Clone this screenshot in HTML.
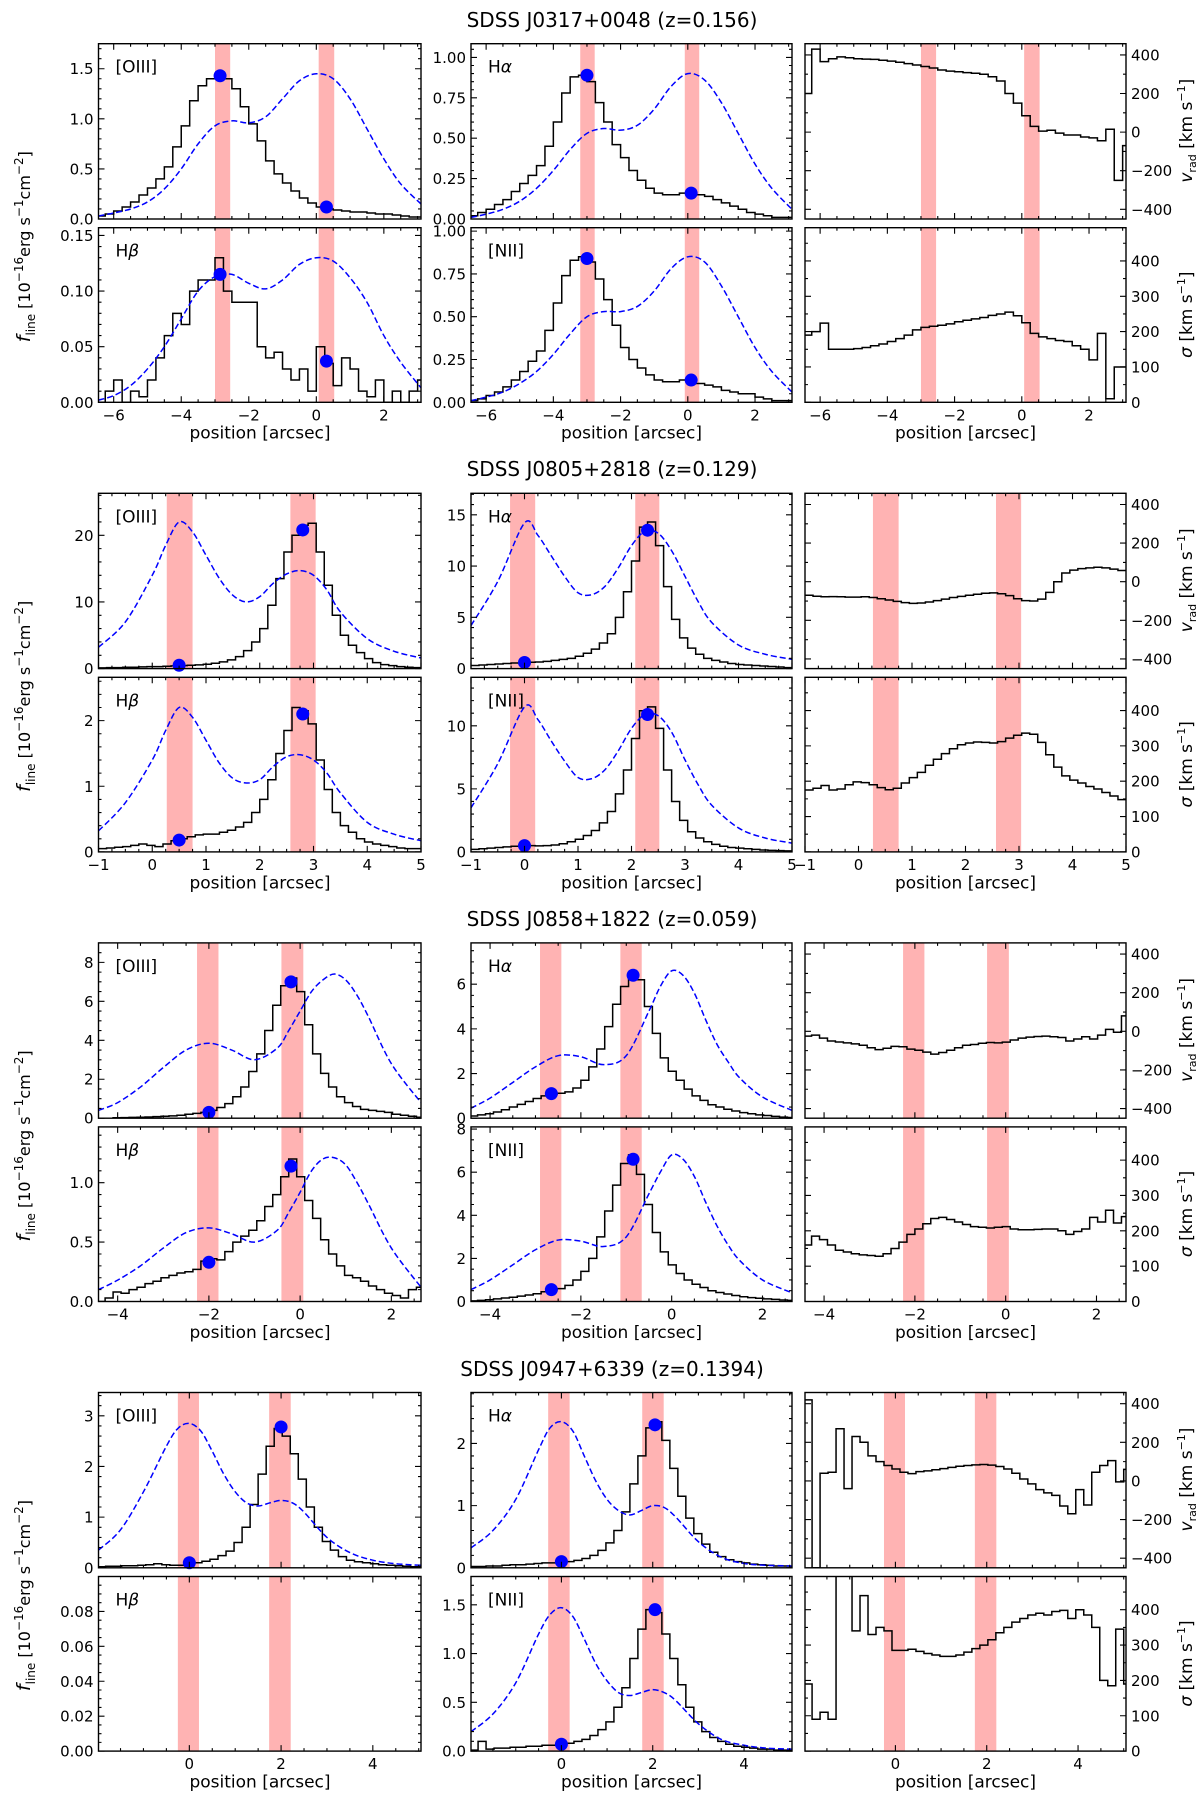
<!DOCTYPE html>
<html><head><meta charset="utf-8"><style>
html,body{margin:0;padding:0;background:#fff;}
svg{display:block;font-family:"DejaVu Sans","Liberation Sans",sans-serif;}
</style></head><body>
<svg id="fig" xmlns="http://www.w3.org/2000/svg" width="1200" height="1795" viewBox="0 0 1200 1795">
<defs id="defs"></defs>
<rect width="1200" height="1795" fill="#fff"/>
<g font-size="20" text-anchor="middle" fill="#000">
<text x="612" y="27">SDSS J0317+0048 (z=0.156)</text>
<text x="612" y="476">SDSS J0805+2818 (z=0.129)</text>
<text x="612" y="926">SDSS J0858+1822 (z=0.059)</text>
<text x="612" y="1376">SDSS J0947+6339 (z=0.1394)</text>
</g>
<g id="labels" font-size="17" text-anchor="middle"></g>
</svg>
<script>
// ---------- DATA ----------
// Row 1: SDSS J0317+0048
const r1_bin0 = -6.5, r1_binw = 0.25;
const r1_oiii = [0.03,0.05,0.08,0.12,0.17,0.24,0.31,0.4,0.52,0.72,0.93,1.18,1.33,1.4,1.43,1.4,1.3,1.12,0.95,0.78,0.58,0.45,0.36,0.28,0.21,0.16,0.12,0.1,0.09,0.08,0.07,0.07,0.06,0.05,0.05,0.04,0.03,0.02,0.02];
const r1_ha = [0.02,0.04,0.06,0.09,0.12,0.17,0.22,0.27,0.33,0.45,0.6,0.78,0.88,0.89,0.85,0.72,0.6,0.46,0.38,0.3,0.24,0.19,0.16,0.15,0.15,0.16,0.17,0.15,0.14,0.12,0.1,0.08,0.06,0.04,0.03,0.02,0.01,0.01,0.01];
const r1_hb = [0.0,0.01,0.02,0.0,0.01,0.005,0.02,0.04,0.06,0.08,0.07,0.1,0.11,0.11,0.13,0.10,0.09,0.09,0.09,0.05,0.04,0.045,0.03,0.02,0.03,0.01,0.05,0.035,0.015,0.04,0.03,0.01,0.005,0.02,0.0,0.01,0.0,0.01,0.02];
const r1_nii = [0.01,0.02,0.04,0.06,0.09,0.13,0.18,0.24,0.3,0.42,0.58,0.74,0.83,0.85,0.82,0.72,0.6,0.45,0.32,0.25,0.2,0.16,0.13,0.12,0.12,0.13,0.12,0.11,0.1,0.09,0.07,0.06,0.05,0.05,0.03,0.02,0.01,0.01,0.01];
const r1_vrad = [200,430,365,380,390,385,380,378,377,372,368,362,355,348,340,332,322,316,313,308,305,300,287,265,200,150,85,30,5,10,-5,-15,-15,-25,-30,-45,15,-250,-70];
const r1_sigma = [190,200,224,150,150,150,152,155,160,165,172,180,190,205,212,215,218,222,228,232,236,240,246,250,255,245,225,195,185,180,175,172,160,150,120,195,10,100,100];
const r1_dashX = [-6.45,-6,-5.5,-5,-4.5,-4,-3.5,-3,-2.5,-2,-1.5,-1,-0.5,0,0.5,1,1.5,2,2.5,3.1];
const r1_oiii_fit = [0.03,0.06,0.1,0.17,0.3,0.5,0.75,0.93,0.98,0.96,1.02,1.2,1.38,1.45,1.4,1.2,0.9,0.6,0.35,0.15];
const r1_ha_fit = [0.01,0.03,0.06,0.11,0.19,0.3,0.43,0.53,0.56,0.55,0.58,0.68,0.82,0.9,0.86,0.72,0.53,0.34,0.19,0.06];
const r1_hb_fit = [0.002,0.006,0.015,0.03,0.05,0.075,0.1,0.113,0.115,0.107,0.102,0.11,0.124,0.13,0.127,0.112,0.09,0.06,0.036,0.013];
const r1_nii_fit = [0.01,0.03,0.06,0.11,0.18,0.28,0.4,0.5,0.53,0.53,0.56,0.65,0.78,0.85,0.82,0.68,0.5,0.32,0.18,0.06];
const r1_oiii_dotX = [-2.85,0.3], r1_oiii_dotY = [1.43,0.12];
const r1_ha_dotX = [-3.0,0.1], r1_ha_dotY = [0.89,0.16];
const r1_hb_dotX = [-2.85,0.3], r1_hb_dotY = [0.115,0.037];
const r1_nii_dotX = [-3.0,0.1], r1_nii_dotY = [0.84,0.13];
const r1_bandsA = [[-3.0,-2.55],[0.07,0.53]], r1_bandsB = [[-3.2,-2.77],[-0.09,0.34]];

// Row 2: SDSS J0805+2818
const r2_bin0 = -1, r2_binw = 0.15;
const r2_oiii = [0.1,0.15,0.15,0.2,0.2,0.25,0.3,0.3,0.35,0.4,0.45,0.5,0.55,0.65,0.8,1.0,1.3,1.8,2.7,4.0,6.0,9.5,13.5,17.5,20.0,21.5,21.8,17.5,12.5,8.0,5.0,3.5,2.4,1.5,0.9,0.6,0.45,0.3,0.2,0.15];
const r2_ha = [0.3,0.35,0.4,0.45,0.5,0.55,0.6,0.62,0.65,0.7,0.8,0.9,1.0,1.2,1.5,1.9,2.5,3.4,5.0,7.5,10.5,13.8,14.3,12.0,8.0,4.8,3.0,2.0,1.4,1.0,0.8,0.65,0.5,0.4,0.35,0.3,0.25,0.2,0.15,0.1];
const r2_hb = [0.05,0.06,0.07,0.08,0.1,0.12,0.1,0.08,0.12,0.17,0.2,0.23,0.26,0.27,0.27,0.3,0.33,0.38,0.45,0.6,0.8,1.1,1.5,1.85,2.2,2.15,1.95,1.4,0.95,0.6,0.4,0.3,0.2,0.15,0.12,0.1,0.08,0.06,0.05,0.05];
const r2_nii = [0.2,0.25,0.3,0.35,0.4,0.45,0.5,0.5,0.48,0.5,0.55,0.65,0.8,1.0,1.3,1.7,2.3,3.2,4.6,6.5,9.0,11.2,11.5,9.8,6.5,4.0,2.5,1.6,1.1,0.8,0.6,0.45,0.35,0.3,0.25,0.2,0.15,0.12,0.1,0.08];
const r2_vrad = [-70,-75,-78,-77,-78,-80,-80,-78,-82,-88,-95,-102,-108,-112,-110,-105,-98,-90,-82,-76,-70,-65,-60,-58,-62,-72,-88,-98,-100,-90,-55,0,45,60,68,72,75,72,65,58];
const r2_sigma = [175,180,188,175,178,190,198,196,190,182,176,180,195,210,225,245,262,278,292,303,308,311,310,308,312,322,330,336,333,310,275,240,215,203,195,185,178,168,158,148];
const r2_dashX = [-1,-0.5,0,0.25,0.5,0.75,1,1.25,1.5,1.75,2,2.25,2.5,2.75,3,3.25,3.5,4,4.5,5];
const r2_oiii_fit = [3.2,7,14,18.5,22,20.5,17,13.5,11,10,10.8,12.8,14.2,14.7,14,11.8,8.5,4.5,2.6,1.6];
const r2_ha_fit = [4.2,8.5,14.2,13,11,9,7.4,7.2,8,9.8,12,13.4,13.2,11.5,9,6.5,4.5,2.3,1.4,0.9];
const r2_hb_fit = [0.32,0.75,1.4,1.85,2.2,2.05,1.7,1.35,1.12,1.05,1.1,1.3,1.45,1.48,1.4,1.2,0.9,0.45,0.27,0.17];
const r2_nii_fit = [3.5,7,11.5,10.5,8.8,7.2,5.9,5.8,6.5,8,9.8,10.9,10.8,9.5,7.3,5.3,3.7,1.9,1.1,0.7];
const r2_oiii_dotX = [0.5,2.8], r2_oiii_dotY = [0.5,20.8];
const r2_ha_dotX = [0,2.3], r2_ha_dotY = [0.6,13.5];
const r2_hb_dotX = [0.5,2.8], r2_hb_dotY = [0.18,2.1];
const r2_nii_dotX = [0,2.3], r2_nii_dotY = [0.5,10.9];
const r2_bandsA = [[0.27,0.75],[2.57,3.04]], r2_bandsB = [[-0.27,0.2],[2.07,2.52]];

// Row 3: SDSS J0858+1822
const r3_bin0 = -4.45, r3_binw = 0.175;
const r3_oiii = [0,0,0.02,0.03,0.04,0.05,0.06,0.08,0.1,0.12,0.15,0.2,0.25,0.3,0.4,0.55,0.75,1.1,1.6,2.4,3.3,4.5,5.8,6.8,7.2,6.5,4.8,3.3,2.3,1.6,1.1,0.8,0.6,0.45,0.4,0.35,0.3,0.2,0.15,0.1,0.05];
const r3_ha = [0.1,0.15,0.2,0.28,0.38,0.5,0.62,0.75,0.88,1.0,1.08,1.12,1.18,1.35,1.7,2.3,3.1,4.1,5.1,5.9,6.5,6.2,5.0,3.8,2.7,2.1,1.7,1.3,1.0,0.8,0.6,0.5,0.4,0.32,0.25,0.2,0.15,0.12,0.08,0.05,0.03];
const r3_hb = [0.0,0.03,0.08,0.07,0.1,0.12,0.15,0.17,0.2,0.22,0.24,0.25,0.27,0.34,0.36,0.35,0.42,0.5,0.55,0.6,0.68,0.8,0.9,1.05,1.2,1.05,0.85,0.7,0.52,0.4,0.3,0.22,0.2,0.17,0.13,0.1,0.07,0.05,0.03,0.1,0.12];
const r3_nii = [0.03,0.05,0.08,0.12,0.16,0.2,0.25,0.3,0.36,0.45,0.55,0.6,0.75,1.0,1.4,2.0,3.0,4.2,5.4,6.4,6.8,5.9,4.5,3.2,2.3,1.7,1.3,1.0,0.8,0.65,0.5,0.42,0.35,0.28,0.22,0.18,0.15,0.12,0.1,0.07,0.05];
const r3_vrad = [-25,-20,-35,-50,-55,-60,-65,-72,-85,-95,-88,-78,-80,-92,-98,-108,-118,-110,-98,-85,-72,-68,-62,-58,-60,-56,-45,-35,-30,-27,-25,-28,-32,-50,-40,-28,-40,-20,10,-5,80];
const r3_sigma = [160,185,175,160,145,140,135,132,130,128,135,150,168,190,205,220,235,238,232,225,218,212,210,208,210,212,205,203,203,204,205,205,200,190,198,205,238,225,258,222,240];
const r3_dashX = [-4.42,-4,-3.5,-3,-2.5,-2,-1.5,-1,-0.5,-0.25,0,0.25,0.5,0.75,1,1.25,1.5,2,2.65];
const r3_oiii_fit = [0.4,0.8,1.6,2.6,3.5,3.85,3.5,3.0,3.6,4.5,5.5,6.5,7.1,7.4,7.1,6.3,5.2,2.8,0.8];
const r3_ha_fit = [0.45,0.9,1.6,2.3,2.8,2.75,2.4,2.8,4.8,5.9,6.6,6.4,5.6,4.4,3.3,2.5,1.8,0.95,0.35];
const r3_hb_fit = [0.1,0.18,0.3,0.45,0.58,0.62,0.57,0.5,0.6,0.75,0.92,1.1,1.2,1.21,1.15,1.0,0.82,0.45,0.12];
const r3_nii_fit = [0.55,1.0,1.7,2.4,2.85,2.8,2.55,3.0,5.0,6.0,6.8,6.6,5.8,4.6,3.5,2.6,1.9,1.0,0.4];
const r3_oiii_dotX = [-2.0,-0.2], r3_oiii_dotY = [0.3,7.0];
const r3_ha_dotX = [-2.65,-0.85], r3_ha_dotY = [1.1,6.4];
const r3_hb_dotX = [-2.0,-0.2], r3_hb_dotY = [0.33,1.14];
const r3_nii_dotX = [-2.65,-0.85], r3_nii_dotY = [0.55,6.6];
const r3_bandsA = [[-2.26,-1.79],[-0.41,0.07]], r3_bandsB = [[-2.9,-2.43],[-1.13,-0.66]];

// Row 4: SDSS J0947+6339
const r4_bin0 = -2.0, r4_binw = 0.175;
const r4_oiii = [0.02,0.03,0.03,0.04,0.04,0.05,0.06,0.08,0.06,0.05,0.05,0.07,0.1,0.13,0.17,0.24,0.33,0.5,0.8,1.25,1.85,2.4,2.75,2.6,2.25,1.75,1.2,0.8,0.52,0.35,0.22,0.15,0.12,0.1,0.08,0.06,0.05,0.04,0.03,0.02,0.02];
const r4_ha = [0.02,0.02,0.03,0.03,0.04,0.05,0.05,0.06,0.07,0.08,0.08,0.09,0.1,0.12,0.15,0.2,0.28,0.4,0.6,0.9,1.35,1.8,2.25,2.35,2.05,1.6,1.15,0.8,0.55,0.38,0.25,0.18,0.13,0.1,0.08,0.06,0.05,0.04,0.03,0.03,0.02];
const r4_nii = [0.01,0.1,0.02,0.03,0.03,0.04,0.04,0.05,0.05,0.06,0.06,0.07,0.08,0.1,0.12,0.16,0.22,0.3,0.45,0.65,0.95,1.25,1.45,1.42,1.2,0.95,0.68,0.45,0.3,0.2,0.14,0.1,0.07,0.05,0.04,0.03,0.02,0.02,0.01,0.01,0.01];
const r4_vrad = [420,-450,40,45,270,-40,230,200,130,100,80,62,45,38,48,52,58,64,70,76,80,83,85,82,75,62,40,10,-15,-45,-62,-75,-130,-170,-45,-125,45,80,105,-5,60];
const r4_sigma = [190,90,110,90,500,500,340,440,330,350,340,285,285,288,282,276,272,268,268,272,280,290,300,315,335,350,365,375,385,390,385,395,398,375,400,385,350,200,185,345,190];
const r4_dashX = [-1.98,-1.5,-1,-0.5,-0.25,0,0.25,0.5,0.75,1,1.25,1.5,1.75,2,2.25,2.5,3,3.5,4,4.5,5.05];
const r4_oiii_fit = [0.35,0.75,1.5,2.4,2.75,2.85,2.7,2.3,1.85,1.5,1.28,1.22,1.28,1.33,1.28,1.1,0.6,0.3,0.15,0.08,0.05];
const r4_ha_fit = [0.32,0.6,1.1,1.9,2.25,2.35,2.2,1.8,1.4,1.1,0.92,0.85,0.92,1.0,0.97,0.82,0.42,0.17,0.07,0.04,0.03];
const r4_nii_fit = [0.2,0.38,0.7,1.2,1.4,1.47,1.38,1.15,0.9,0.72,0.6,0.57,0.6,0.63,0.6,0.52,0.28,0.12,0.06,0.03,0.02];
const r4_oiii_dotX = [0,2.0], r4_oiii_dotY = [0.1,2.78];
const r4_ha_dotX = [0,2.05], r4_ha_dotY = [0.1,2.3];
const r4_nii_dotX = [0,2.05], r4_nii_dotY = [0.07,1.45];
const r4_bandsA = [[-0.25,0.21],[1.74,2.21]], r4_bandsB = [[-0.29,0.18],[1.77,2.24]];

// axis ticks
const r1_xt = [-6,-4,-2,0,2], r2_xt = [-1,0,1,2,3,4,5], r3_xt = [-4,-2,0,2], r4_xt = [0,2,4];
const vrad_ticks = [-400,-200,0,200,400], sigma_ticks = [0,100,200,300,400];

// ---------- DRAWING ----------
const NS = 'http://www.w3.org/2000/svg';
const svg = document.getElementById('fig');
const defs = document.getElementById('defs');
const colL = [98.5,471,805], colR = [421,792,1126];
function rowTop(r){ return 43.7 + 449.6*r; }
let clipN = 0;
function mk(tag, attrs, parent){
  const e = document.createElementNS(NS, tag);
  for (const k in attrs) e.setAttribute(k, attrs[k]);
  parent.appendChild(e);
  return e;
}
function fmt(v, d){ return d==null ? String(v) : v.toFixed(d); }

function drawPanel(c){
  const g = mk('g', {}, svg);
  
  
  const sx = v => c.x0 + (v - c.xr[0])/(c.xr[1]-c.xr[0])*(c.x1-c.x0);
  const sy = v => c.y1 - (v - c.yr[0])/(c.yr[1]-c.yr[0])*(c.y1-c.y0);
  const id = 'clip' + (++clipN);
  const cp = mk('clipPath', {id:id}, defs);
  mk('rect', {x:c.x0, y:c.y0, width:c.x1-c.x0, height:c.y1-c.y0}, cp);
  const inner = mk('g', {'clip-path':'url(#'+id+')'}, g);
  c.bands.forEach(b => {
    const r = mk('rect', {x:sx(b[0]), y:c.y0, width:sx(b[1])-sx(b[0]), height:c.y1-c.y0, fill:'#ffb3b3'}, inner);
    
    
  });
  if (c.hv){
    let d = '';
    c.hv.forEach((v,i) => {
      const a = sx(c.h0 + i*c.hw), b = sx(c.h0 + (i+1)*c.hw), y = sy(v);
      d += (i ? 'V'+y.toFixed(2) : 'M'+a.toFixed(2)+','+y.toFixed(2)) + 'H'+b.toFixed(2);
    });
    const p = mk('path', {d:d, fill:'none', stroke:'#000', 'stroke-width':1.5}, inner);
    
    
  }
  if (c.fx){
    const pts = c.fx.map((x,i) => [sx(x), sy(c.fy[i])]);
    let d = 'M'+pts[0][0]+','+pts[0][1];
    for (let i=0;i<pts.length-1;i++){
      const p0 = pts[Math.max(0,i-1)], p1 = pts[i], p2 = pts[i+1], p3 = pts[Math.min(pts.length-1,i+2)];
      const c1x = p1[0]+(p2[0]-p0[0])/6, c1y = p1[1]+(p2[1]-p0[1])/6;
      const c2x = p2[0]-(p3[0]-p1[0])/6, c2y = p2[1]-(p3[1]-p1[1])/6;
      d += 'C'+c1x.toFixed(2)+','+c1y.toFixed(2)+' '+c2x.toFixed(2)+','+c2y.toFixed(2)+' '+p2[0].toFixed(2)+','+p2[1].toFixed(2);
    }
    const p = mk('path', {d:d, fill:'none', stroke:'#0000ff', 'stroke-width':1.5, 'stroke-dasharray':'6,3'}, inner);
    
    
  }
  if (c.dx){
    c.dx.forEach((x,i) => {
      const ci = mk('circle', {cx:sx(x), cy:sy(c.dy[i]), r:6.5, fill:'#0000ff'}, g);
      
      
    });
  }
  const fr = mk('rect', {x:c.x0, y:c.y0, width:c.x1-c.x0, height:c.y1-c.y0, fill:'none', stroke:'#000', 'stroke-width':1.4}, g);
  
  
  let td = '';
  for (let v = Math.ceil(c.xr[0]/c.xm)*c.xm; v <= c.xr[1]+1e-9; v += c.xm){
    const X = sx(v);
    td += 'M'+X+','+c.y1+'v-3M'+X+','+c.y0+'v3';
  }
  c.xt.forEach(v => { const X = sx(v); td += 'M'+X+','+c.y1+'v-6M'+X+','+c.y0+'v6'; });
  for (let v = Math.ceil(c.yr[0]/c.ym)*c.ym; v <= c.yr[1]+1e-9; v += c.ym){
    const Y = sy(v);
    td += 'M'+c.x0+','+Y+'h3M'+c.x1+','+Y+'h-3';
  }
  c.yt.forEach(v => { const Y = sy(v); td += 'M'+c.x0+','+Y+'h6M'+c.x1+','+Y+'h-6'; });
  const tk = mk('path', {d:td, stroke:'#000', 'stroke-width':1.1, fill:'none'}, g);
  
  
  if (c.showX){
    c.xt.forEach(v => {
      const t = mk('text', {x:sx(v), y:c.y1+18, 'font-size':15, 'text-anchor':'middle'}, g);
      t.textContent = String(v).replace('-','\u2212');
      
      
    });
  }
  c.yt.forEach(v => {
    const t = mk('text', {x: c.right ? c.x1+5 : c.x0-5, y:sy(v)+5.5, 'font-size':15, 'text-anchor': c.right ? 'start':'end'}, g);
    t.textContent = fmt(v, c.yd).replace('-','\u2212');
    
    
  });
  if (c.label){
    const t = mk('text', {x:c.x0+17, y:c.y0+29, 'font-size':17}, g);
    t.innerHTML = c.label;
    
    
  }
}

function range(a,b,s){ const o=[]; for(let v=a; v<=b+1e-9; v+=s) o.push(+v.toFixed(4)); return o; }
const LBL = {
  oiii:'[OIII]', ha:'H<tspan font-style="italic">α</tspan>', hb:'H<tspan font-style="italic">β</tspan>', nii:'[NII]'
};
const rowsCfg = [
  {xr:[-6.45,3.1], xt:r1_xt, xm:0.5, h0:r1_bin0, hw:r1_binw, fx:r1_dashX, bA:r1_bandsA, bB:r1_bandsB,
   p:[
    {k:'oiii', hv:r1_oiii, fy:r1_oiii_fit, dx:r1_oiii_dotX, dy:r1_oiii_dotY, yr:[0,1.75], yt:range(0,1.5,0.5), ym:0.1, yd:1},
    {k:'ha', hv:r1_ha, fy:r1_ha_fit, dx:r1_ha_dotX, dy:r1_ha_dotY, yr:[0,1.085], yt:range(0,1,0.25), ym:0.05, yd:2},
    {k:'hb', hv:r1_hb, fy:r1_hb_fit, dx:r1_hb_dotX, dy:r1_hb_dotY, yr:[0,0.157], yt:range(0,0.15,0.05), ym:0.01, yd:2},
    {k:'nii', hv:r1_nii, fy:r1_nii_fit, dx:r1_nii_dotX, dy:r1_nii_dotY, yr:[0,1.02], yt:range(0,1,0.25), ym:0.05, yd:2}],
   vr:r1_vrad, sg:r1_sigma},
  {xr:[-1,5], xt:r2_xt, xm:0.25, h0:r2_bin0, hw:r2_binw, fx:r2_dashX, bA:r2_bandsA, bB:r2_bandsB,
   p:[
    {k:'oiii', hv:r2_oiii, fy:r2_oiii_fit, dx:r2_oiii_dotX, dy:r2_oiii_dotY, yr:[0,26.3], yt:[0,10,20], ym:2},
    {k:'ha', hv:r2_ha, fy:r2_ha_fit, dx:r2_ha_dotX, dy:r2_ha_dotY, yr:[0,17.1], yt:[0,5,10,15], ym:1},
    {k:'hb', hv:r2_hb, fy:r2_hb_fit, dx:r2_hb_dotX, dy:r2_hb_dotY, yr:[0,2.66], yt:[0,1,2], ym:0.2},
    {k:'nii', hv:r2_nii, fy:r2_nii_fit, dx:r2_nii_dotX, dy:r2_nii_dotY, yr:[0,13.85], yt:[0,5,10], ym:1}],
   vr:r2_vrad, sg:r2_sigma},
  {xr:[-4.42,2.65], xt:r3_xt, xm:0.5, h0:r3_bin0, hw:r3_binw, fx:r3_dashX, bA:r3_bandsA, bB:r3_bandsB,
   p:[
    {k:'oiii', hv:r3_oiii, fy:r3_oiii_fit, dx:r3_oiii_dotX, dy:r3_oiii_dotY, yr:[0,9.0], yt:[0,2,4,6,8], ym:0.5},
    {k:'ha', hv:r3_ha, fy:r3_ha_fit, dx:r3_ha_dotX, dy:r3_ha_dotY, yr:[0,7.85], yt:[0,2,4,6], ym:0.5},
    {k:'hb', hv:r3_hb, fy:r3_hb_fit, dx:r3_hb_dotX, dy:r3_hb_dotY, yr:[0,1.47], yt:[0,0.5,1.0], ym:0.1, yd:1},
    {k:'nii', hv:r3_nii, fy:r3_nii_fit, dx:r3_nii_dotX, dy:r3_nii_dotY, yr:[0,8.1], yt:[0,2,4,6,8], ym:0.5}],
   vr:r3_vrad, sg:r3_sigma},
  {xr:[-1.98,5.05], xt:r4_xt, xm:0.5, h0:r4_bin0, hw:r4_binw, fx:r4_dashX, bA:r4_bandsA, bB:r4_bandsB,
   p:[
    {k:'oiii', hv:r4_oiii, fy:r4_oiii_fit, dx:r4_oiii_dotX, dy:r4_oiii_dotY, yr:[0,3.46], yt:[0,1,2,3], ym:0.2},
    {k:'ha', hv:r4_ha, fy:r4_ha_fit, dx:r4_ha_dotX, dy:r4_ha_dotY, yr:[0,2.82], yt:[0,1,2], ym:0.2},
    {k:'hb', hv:null, fy:null, dx:null, dy:null, yr:[0,0.1], yt:range(0,0.08,0.02), ym:0.005, yd:2},
    {k:'nii', hv:r4_nii, fy:r4_nii_fit, dx:r4_nii_dotX, dy:r4_nii_dotY, yr:[0,1.79], yt:range(0,1.5,0.5), ym:0.1, yd:1}],
   vr:r4_vrad, sg:r4_sigma}
];

const lab = document.getElementById('labels');
rowsCfg.forEach((R, r) => {
  const T = rowTop(r);
  const top = [T, T+175.3], bot = [T+184, T+358.6];
  const slots = [[0,top],[1,top],[0,bot],[1,bot]];
  R.p.forEach((P, i) => {
    const col = slots[i][0], yy = slots[i][1];
    drawPanel({name:'panel-row'+(r+1)+'-'+P.k, x0:colL[col], x1:colR[col], y0:yy[0], y1:yy[1],
      xr:R.xr, yr:P.yr, xt:R.xt, xm:R.xm, yt:P.yt, ym:P.ym, yd:P.yd, showX: i>=2,
      bands: col===0 ? R.bA : R.bB, h0:R.h0, hw:R.hw, hv:P.hv, fx:P.fy ? R.fx : null, fy:P.fy,
      dx:P.dx, dy:P.dy, label:LBL[P.k]});
  });
  drawPanel({name:'panel-row'+(r+1)+'-vrad', x0:colL[2], x1:colR[2], y0:top[0], y1:top[1],
    xr:R.xr, yr:[-450,458], xt:R.xt, xm:R.xm, yt:vrad_ticks, ym:100, right:true, showX:false,
    bands:R.bA, h0:R.h0, hw:R.hw, hv:R.vr});
  drawPanel({name:'panel-row'+(r+1)+'-sigma', x0:colL[2], x1:colR[2], y0:bot[0], y1:bot[1],
    xr:R.xr, yr:[0,494], xt:R.xt, xm:R.xm, yt:sigma_ticks, ym:50, right:true, showX:true,
    bands:R.bA, h0:R.h0, hw:R.hw, hv:R.sg});
  [260,631.5,965.5].forEach(cx => {
    const t = mk('text', {x:cx, y:T+395, 'font-size':17}, lab);
    t.textContent = 'position [arcsec]';
    
    
  });
  const fl = mk('text', {transform:'translate(30,'+(T+203)+') rotate(-90)', 'font-size':16}, lab);
  fl.innerHTML = '<tspan font-style="italic" font-size="19">f</tspan><tspan font-size="12" dy="5">line</tspan><tspan dy="-5"> [10</tspan><tspan font-size="12" dy="-7">−16</tspan><tspan dy="7">erg s</tspan><tspan font-size="12" dy="-7">−1</tspan><tspan dy="7">cm</tspan><tspan font-size="12" dy="-7">−2</tspan><tspan dy="7">]</tspan>';
  
  
  const vl = mk('text', {transform:'translate(1192,'+(T+87)+') rotate(-90)', 'font-size':17}, lab);
  vl.innerHTML = '<tspan font-style="italic">v</tspan><tspan font-size="11" dy="4">rad</tspan><tspan dy="-4"> [km s</tspan><tspan font-size="11" dy="-7">−1</tspan><tspan dy="7">]</tspan>';
  
  
  const sl = mk('text', {transform:'translate(1192,'+(T+271)+') rotate(-90)', 'font-size':17}, lab);
  sl.innerHTML = '<tspan font-style="italic">σ</tspan> [km s<tspan font-size="11" dy="-7">−1</tspan><tspan dy="7">]</tspan>';
  
  
});
</script>
</body></html>
